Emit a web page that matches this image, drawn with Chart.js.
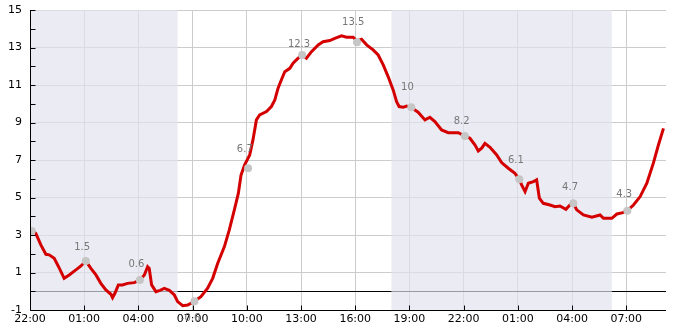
<!DOCTYPE html>
<html>
<head>
<meta charset="utf-8">
<script src="https://cdn.jsdelivr.net/npm/chart.js@4.4.0/dist/chart.umd.min.js"></script>
<style>
body { margin: 0; background: #fff; }
</style>
</head>
<body>
<canvas id="chart-temp" width="685" height="330"></canvas>
<script>
// x values are hours counted from 22:00 on the first evening
var hours = [0.1, 0.32, 0.6, 0.88, 1.06, 1.34, 1.62, 1.89, 2.17, 2.54, 2.82, 3.09, 3.37, 3.65, 3.92, 4.2, 4.48, 4.57, 4.7, 4.89,
    5.12, 5.4, 5.77, 6.08, 6.33, 6.51, 6.6, 6.73, 6.97, 7.2, 7.43, 7.71, 7.99, 8.17, 8.45, 8.73, 9.1, 9.46, 9.83, 10.11,
    10.39, 10.76, 11.03, 11.31, 11.53, 11.68, 11.88, 12.16, 12.34, 12.53, 12.71, 13.09, 13.36, 13.55, 13.73, 13.91, 14.1, 14.38, 14.56, 14.84,
    15.06, 15.3, 15.58, 15.95, 16.22, 16.59, 16.87, 17.24, 17.52, 17.88, 18.1, 18.35, 18.63, 18.99, 19.27, 19.55, 19.82, 20.1, 20.29, 20.43,
    20.65, 20.84, 21.1, 21.48, 21.86, 22.13, 22.41, 22.78, 23.15, 23.7, 24.07, 24.35, 24.63, 24.81, 25.0, 25.18, 25.46, 25.83, 26.1, 26.47,
    26.84, 27.08, 27.21, 27.4, 27.58, 27.86, 28.04, 28.19, 28.41, 28.78, 29.06, 29.33, 29.66, 29.88, 30.07, 30.26, 30.63, 31.1, 31.55, 31.74,
    32.2, 32.48, 32.81, 33.06, 33.4, 33.77, 34.14, 34.5, 34.78, 35.06];
var temps = [3.21, 3.09, 2.47, 1.97, 1.94, 1.76, 1.23, 0.69, 0.87, 1.14, 1.35, 1.61, 1.22, 0.87, 0.42, 0.07, -0.16, -0.34, -0.11, 0.34,
    0.34, 0.42, 0.46, 0.6, 0.87, 1.31, 1.22, 0.34, -0.02, 0.05, 0.15, 0.05, -0.2, -0.55, -0.77, -0.73, -0.53, -0.29, 0.16, 0.69,
    1.49, 2.38, 3.27, 4.34, 5.22, 6.2, 6.74, 7.27, 8.07, 9.14, 9.4, 9.58, 9.85, 10.2, 10.83, 11.27, 11.71, 11.89, 12.16, 12.43,
    12.6, 12.43, 12.78, 13.14, 13.31, 13.37, 13.49, 13.62, 13.55, 13.55, 13.35, 13.44, 13.14, 12.87, 12.6, 12.07, 11.45, 10.74, 10.11, 9.85,
    9.81, 9.88, 9.8, 9.55, 9.14, 9.28, 9.05, 8.6, 8.46, 8.46, 8.28, 8.16, 7.8, 7.48, 7.63, 7.89, 7.68, 7.27, 6.86, 6.56,
    6.29, 5.97, 5.67, 5.31, 5.76, 5.85, 5.94, 4.96, 4.69, 4.6, 4.51, 4.55, 4.37, 4.6, 4.69, 4.34, 4.07, 3.95, 4.07, 3.89,
    3.89, 4.12, 4.19, 4.3, 4.6, 5.05, 5.76, 6.83, 7.8, 8.69];

var markerHours = [0.1, 3.09, 6.08, 9.1, 12.07, 15.06, 18.1, 21.1, 24.07, 27.08, 30.07, 33.06];
var markerTemps = [3.21, 1.61, 0.6, -0.53, 6.56, 12.6, 13.28, 9.81, 8.28, 5.97, 4.69, 4.3];
var labelHours = [0, 3, 6, 9, 12, 15, 18, 21, 24, 27, 30, 33];
var labelTemps = [null, 1.5, 0.6, -0.6, 6.7, 12.3, 13.5, 10, 8.2, 6.1, 4.7, 4.3];

var tickHours = [0, 3, 6, 9, 12, 15, 18, 21, 24, 27, 30, 33];
var tickLabels = ["22:00", "01:00", "04:00", "07:00", "10:00", "13:00", "16:00", "19:00", "22:00", "01:00", "04:00", "07:00"];
var yTicks = [-1, 1, 3, 5, 7, 9, 11, 13, 15];
var yMinorTicks = [0, 2, 4, 6, 8, 10, 12, 14];
var nightBands = [[0, 8.17], [20, 32.2]];

var shadePlugin = {
    id: 'shade',
    beforeDatasetsDraw: function (chart) {
        var c = chart.ctx, a = chart.chartArea;
        var x = chart.scales.x, y = chart.scales.y;
        c.save();
        // zero line
        var y0 = Math.round(y.getPixelForValue(0)) + 0.5;
        c.strokeStyle = '#000';
        c.lineWidth = 1;
        c.beginPath();
        c.moveTo(a.left, y0);
        c.lineTo(a.right, y0);
        c.stroke();
        // night bands
        c.fillStyle = 'rgba(225,225,237,0.68)';
        nightBands.forEach(function (b) {
            var x1 = Math.max(x.getPixelForValue(b[0]), a.left);
            var x2 = Math.min(x.getPixelForValue(b[1]), a.right);
            c.fillRect(x1, a.top, x2 - x1, a.bottom - a.top);
        });
        c.restore();
    }
};

var axisPlugin = {
    id: 'axisMarks',
    afterDatasetsDraw: function (chart) {
        var c = chart.ctx, a = chart.chartArea;
        var x = chart.scales.x, y = chart.scales.y;
        c.save();
        c.strokeStyle = '#000';
        c.lineWidth = 1;
        c.beginPath();
        var lx = Math.round(a.left) + 0.5, by = Math.round(a.bottom) + 0.5;
        c.moveTo(lx, a.top);
        c.lineTo(lx, by);
        c.lineTo(a.right, by);
        yTicks.concat(yMinorTicks).forEach(function (v) {
            var py = Math.round(y.getPixelForValue(v)) + 0.5;
            c.moveTo(lx, py);
            c.lineTo(lx + 5, py);
        });
        tickHours.forEach(function (h) {
            var px = Math.round(x.getPixelForValue(h)) + 0.5;
            c.moveTo(px, by);
            c.lineTo(px, by - 5);
        });
        c.stroke();

        // value labels
        c.font = '10px "DejaVu Sans"';
        c.fillStyle = '#777';
        c.textAlign = 'center';
        c.textBaseline = 'middle';
        labelTemps.forEach(function (v, i) {
            if (v === null) return;
            var px = x.getPixelForValue(labelHours[i]) - 2;
            var py = y.getPixelForValue(v);
            py = v < 0 ? py + 16 : py - 16;
            c.fillText(String(v), px, py);
        });
        c.restore();
    }
};

var ctx = document.getElementById('chart-temp').getContext('2d');

new Chart(ctx, {
    type: 'line',
    data: {
        datasets: [{
            label: 'markers',
            data: markerHours.map(function (h, i) { return { x: h, y: markerTemps[i] }; }),
            showLine: false,
            pointRadius: 4,
            pointBackgroundColor: '#c6c6c6',
            pointBorderWidth: 0,
            order: 0
        }, {
            label: 'temperature',
            data: hours.map(function (h, i) { return { x: h, y: temps[i] }; }),
            borderColor: '#d40000',
            borderWidth: 3,
            pointRadius: 0,
            tension: 0,
            fill: false,
            order: 1
        }]
    },
    options: {
        responsive: false,
        animation: false,
        layout: { padding: { top: 10, right: 19, left: 0, bottom: 0 } },
        plugins: {
            legend: { display: false },
            tooltip: { enabled: false }
        },
        scales: {
            x: {
                type: 'linear',
                min: 0,
                max: 35.2,
                afterBuildTicks: function (scale) {
                    scale.ticks = tickHours.map(function (h) { return { value: h }; });
                },
                afterFit: function (scale) {
                    scale.height = 20;
                    scale.paddingLeft = 0;
                    scale.paddingRight = 0;
                },
                border: { display: false },
                grid: {
                    color: '#cccccc',
                    drawTicks: false
                },
                ticks: {
                    autoSkip: false,
                    maxRotation: 0,
                    padding: 3,
                    color: '#000',
                    font: { family: 'DejaVu Sans', size: 11 },
                    callback: function (value, index) { return tickLabels[index]; }
                }
            },
            y: {
                min: -1,
                max: 15,
                afterBuildTicks: function (scale) {
                    scale.ticks = yTicks.map(function (v) { return { value: v }; });
                },
                afterFit: function (scale) {
                    scale.width = 30;
                    scale.paddingTop = 0;
                    scale.paddingBottom = 0;
                },
                border: { display: false },
                grid: {
                    color: function (c) { return c.tick && c.tick.value === -1 ? 'rgba(0,0,0,0)' : '#cccccc'; },
                    drawTicks: false
                },
                ticks: {
                    autoSkip: false,
                    padding: 8,
                    color: '#000',
                    font: { family: 'DejaVu Sans', size: 11 },
                    callback: function (value) { return String(value); }
                }
            }
        }
    },
    plugins: [shadePlugin, axisPlugin]
});
</script>
</body>
</html>
